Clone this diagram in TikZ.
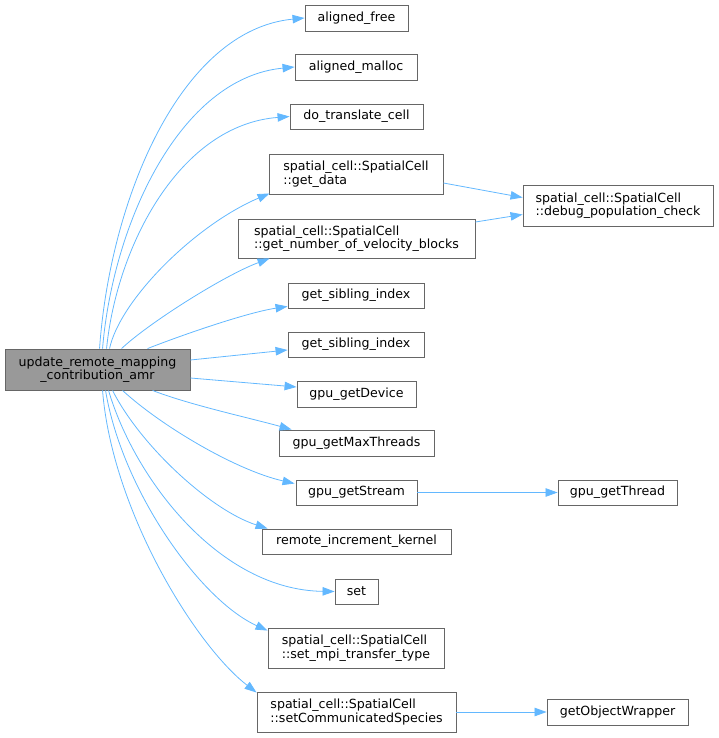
\documentclass[tikz,border=0pt]{standalone}
\usepackage{fontspec}
\setmainfont{DejaVu Sans}
\usetikzlibrary{arrows.meta}
\definecolor{edgeblue}{HTML}{63B8FF}
\definecolor{boxgrey}{HTML}{666666}
\definecolor{mainfill}{HTML}{999999}
\begin{document}
\begin{tikzpicture}[x=1pt,y=-1pt,
  box/.style={draw=boxgrey, line width=0.9pt, fill=white, inner sep=0pt, align=center,
    font=\fontsize{12.6}{13.6}\selectfont},
  lbox/.style={box, align=left},
  mainbox/.style={box, fill=mainfill},
  call/.style={draw=edgeblue, line width=0.8pt, -{Triangle[length=12pt,width=8.5pt]}, edgeblue}
]
\useasboundingbox (0,0) rectangle (719,738);

\node[mainbox, minimum width=185pt, minimum height=41pt] (main) at (97.5,369.5) {update\_remote\_mapping\\\_contribution\_amr};

\node[box, minimum width=103pt, minimum height=26pt] (af) at (356.5,18) {aligned\_free};
\node[box, minimum width=122pt, minimum height=26pt] (am) at (356,67) {aligned\_malloc};
\node[box, minimum width=133pt, minimum height=25pt] (dt) at (356.5,116.5) {do\_translate\_cell};
\node[lbox, minimum width=174pt, minimum height=40pt] (gd) at (356,174) {spatial\_cell::SpatialCell\\::get\_data};
\node[lbox, minimum width=237pt, minimum height=39pt] (gn) at (356.5,238.5) {spatial\_cell::SpatialCell\\::get\_number\_of\_velocity\_blocks};
\node[lbox, minimum width=190pt, minimum height=41pt] (dp) at (618,205.5) {spatial\_cell::SpatialCell\\::debug\_population\_check};
\node[box, minimum width=136pt, minimum height=25pt] (gsa) at (356,295.5) {get\_sibling\_index};
\node[box, minimum width=136pt, minimum height=25pt] (gsb) at (356,344.5) {get\_sibling\_index};
\node[box, minimum width=119pt, minimum height=26pt] (gdev) at (356.5,394) {gpu\_getDevice};
\node[box, minimum width=155pt, minimum height=26pt] (gmt) at (356.5,443) {gpu\_getMaxThreads};
\node[box, minimum width=121pt, minimum height=25pt] (gst) at (356.5,492.5) {gpu\_getStream};
\node[box, minimum width=119pt, minimum height=25pt] (gth) at (617.5,492.5) {gpu\_getThread};
\node[box, minimum width=189pt, minimum height=25pt] (rik) at (356.5,541.5) {remote\_increment\_kernel};
\node[box, minimum width=43pt, minimum height=25pt] (set) at (356.5,591.5) {set};
\node[lbox, minimum width=176pt, minimum height=40pt] (smt) at (356,648) {spatial\_cell::SpatialCell\\::set\_mpi\_transfer\_type};
\node[lbox, minimum width=199pt, minimum height=40pt] (scs) at (356.5,712) {spatial\_cell::SpatialCell\\::setCommunicatedSpecies};
\node[box, minimum width=141pt, minimum height=26pt] (gow) at (617.5,712) {getObjectWrapper};

% upper edges
\draw[call] ([xshift=95pt]main.north west) .. controls (110,200) and (180,30) .. (af.west);
\draw[call] ([xshift=98pt]main.north west) .. controls (113,223) and (180,78) .. (am.west);
\draw[call] ([xshift=102pt]main.north west) .. controls (117,245) and (180,125) .. (dt.west);
\draw[call] ([xshift=105pt]main.north west) .. controls (120,300) and (195,225) .. ([xshift=1pt,yshift=1pt]gd.south west);
\draw[call] ([xshift=117pt]main.north west) .. controls (150,322) and (225,275) .. ([xshift=32pt]gn.south west);
\draw[call] ([xshift=143pt]main.north west) .. controls (190,332) and (250,312) .. ([yshift=2pt]gsa.south west);
\draw[call] ([yshift=9.5pt]main.east) -- ([yshift=-5.5pt]gsb.west);
\draw[call] ([yshift=-8.5pt]main.east) -- ([yshift=7pt]gdev.west);
% lower edges
\draw[call] ([xshift=148pt]main.south west) .. controls (190,405) and (250,418) .. ([xshift=13pt]gmt.north west);
\draw[call] ([xshift=118pt]main.south west) .. controls (160,425) and (235,470) .. ([xshift=-1pt,yshift=-4pt]gst.north west);
\draw[call] ([xshift=108pt]main.south west) .. controls (140,445) and (210,510) .. ([xshift=6pt]rik.north west);
\draw[call] ([xshift=104pt]main.south west) .. controls (135,480) and (220,590) .. (set.west);
\draw[call] ([xshift=101pt]main.south west) .. controls (122,490) and (200,600) .. ([yshift=-3pt]smt.north west);
\draw[call] ([xshift=98pt]main.south west) .. controls (112,510) and (195,645) .. ([yshift=-1pt]scs.north west);
% right edges
\draw[call] ([yshift=-9pt]gd.east) -- ([yshift=8pt]dp.west);
\draw[call] ([yshift=16.5pt]gn.east) -- ([yshift=-9pt]dp.west);
\draw[call] (gst.east) -- (gth.west);
\draw[call] (scs.east) -- (gow.west);
\end{tikzpicture}
\end{document}
